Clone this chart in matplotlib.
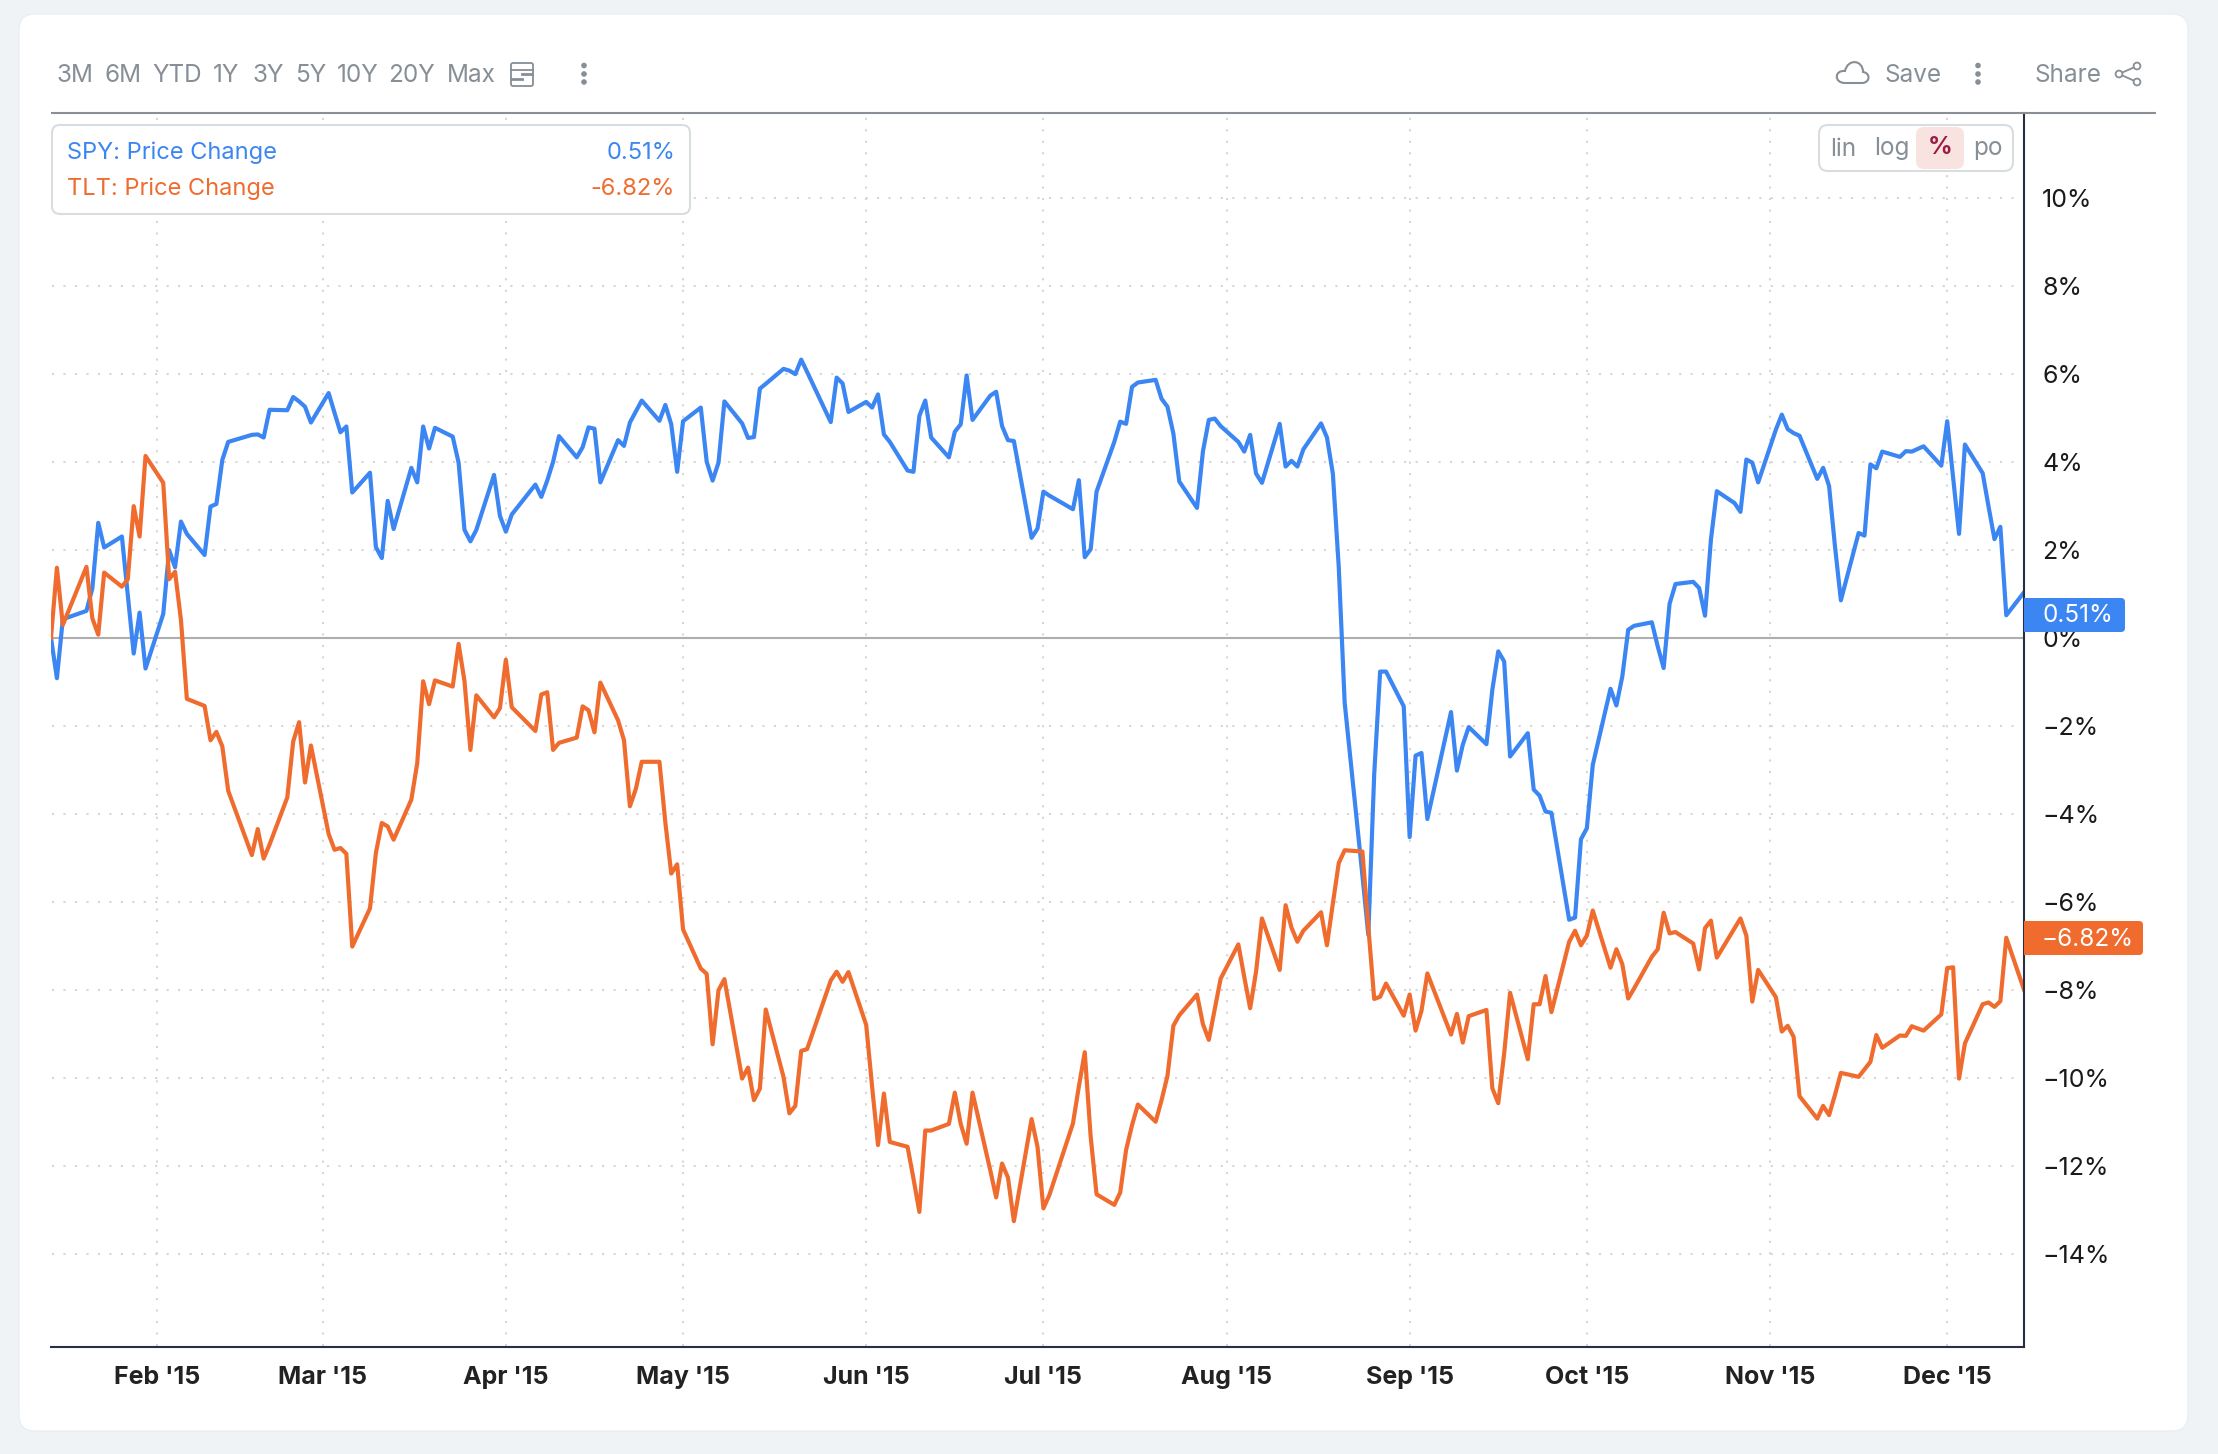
#!/usr/bin/env python3
"""SPY vs TLT price change chart, 2015."""

import matplotlib
matplotlib.use("Agg")
import matplotlib.pyplot as plt
import pandas as pd
from matplotlib.patches import Circle, FancyBboxPatch, PathPatch, Rectangle
from matplotlib.path import Path

# Trading days per month
days_jan = [14, 15, 16, 20, 21, 22, 23, 26, 27, 28, 29, 30]
days_feb = [2, 3, 4, 5, 6, 9, 10, 11, 12, 13, 17, 18, 19, 20, 23, 24, 25, 26, 27]
days_mar = [2, 3, 4, 5, 6, 9, 10, 11, 12, 13, 16, 17, 18, 19, 20, 23, 24, 25, 26, 27, 30, 31]
days_apr = [1, 2, 6, 7, 8, 9, 10, 13, 14, 15, 16, 17, 20, 21, 22, 23, 24, 27, 28, 29, 30]
days_may = [1, 4, 5, 6, 7, 8, 11, 12, 13, 14, 15, 18, 19, 20, 21, 22, 26, 27, 28, 29]
days_jun = [1, 2, 3, 4, 5, 8, 9, 10, 11, 12, 15, 16, 17, 18, 19, 22, 23, 24, 25, 26, 29, 30]
days_jul = [1, 2, 6, 7, 8, 9, 10, 13, 14, 15, 16, 17, 20, 21, 22, 23, 24, 27, 28, 29, 30, 31]
days_aug = [3, 4, 5, 6, 7, 10, 11, 12, 13, 14, 17, 18, 19, 20, 21, 24, 25, 26, 27, 28, 31]
days_sep = [1, 2, 3, 4, 8, 9, 10, 11, 14, 15, 16, 17, 18, 21, 22, 23, 24, 25, 28, 29, 30]
days_oct = [1, 2, 5, 6, 7, 8, 9, 12, 13, 14, 15, 16, 19, 20, 21, 22, 23, 26, 27, 28, 29, 30]
days_nov = [2, 3, 4, 5, 6, 9, 10, 11, 12, 13, 16, 17, 18, 19, 20, 23, 24, 25, 27, 30]
days_dec = [1, 2, 3, 4, 7, 8, 9, 10, 11, 14]

spy_jan = [0.0, -0.92, 0.42, 0.61, 1.12, 2.61, 2.05, 2.30, 0.97, -0.36, 0.57, -0.70]
spy_feb = [0.54, 1.99, 1.60, 2.64, 2.36, 1.88, 2.98, 3.04, 4.04, 4.45, 4.61, 4.62, 4.55, 5.18, 5.17, 5.47, 5.37, 5.25, 4.89]
spy_mar = [5.56, 5.11, 4.67, 4.80, 3.30, 3.75, 2.06, 1.81, 3.11, 2.47, 3.86, 3.53, 4.80, 4.30, 4.77, 4.57, 3.98, 2.45, 2.19, 2.45, 3.70, 2.77]
spy_apr = [2.41, 2.80, 3.48, 3.20, 3.57, 4.00, 4.58, 4.10, 4.33, 4.78, 4.75, 3.53, 4.49, 4.36, 4.89, 5.14, 5.39, 4.93, 5.29, 4.85, 3.77]
spy_may = [4.92, 5.23, 4.00, 3.57, 3.98, 5.37, 4.87, 4.54, 4.56, 5.66, 5.77, 6.11, 6.07, 5.99, 6.32, 6.04, 4.90, 5.91, 5.78, 5.13]
spy_jun = [5.36, 5.23, 5.53, 4.62, 4.45, 3.80, 3.77, 5.04, 5.39, 4.55, 4.10, 4.68, 4.85, 5.96, 4.95, 5.50, 5.59, 4.81, 4.49, 4.47, 2.27, 2.48]
spy_jul = [3.32, 3.23, 2.92, 3.58, 1.83, 2.01, 3.32, 4.45, 4.91, 4.86, 5.70, 5.80, 5.86, 5.43, 5.25, 4.64, 3.55, 2.95, 4.23, 4.95, 4.98, 4.81]
spy_aug = [4.45, 4.23, 4.61, 3.73, 3.52, 4.86, 3.89, 4.02, 3.89, 4.28, 4.87, 4.55, 3.73, 1.60, -1.48, -5.40, -6.75, -3.10, -0.77, -0.77, -1.56]
spy_sep = [-4.53, -2.68, -2.62, -4.12, -1.69, -3.02, -2.43, -2.03, -2.42, -1.18, -0.31, -0.54, -2.70, -2.17, -3.45, -3.59, -3.95, -3.98, -6.41, -6.36, -4.58]
spy_oct = [-4.33, -2.89, -1.16, -1.54, -0.88, 0.18, 0.27, 0.35, -0.20, -0.69, 0.77, 1.22, 1.27, 1.13, 0.50, 2.23, 3.33, 3.06, 2.86, 4.05, 3.98, 3.53]
spy_nov = [4.73, 5.07, 4.74, 4.65, 4.59, 3.61, 3.86, 3.45, 2.08, 0.85, 2.38, 2.32, 3.94, 3.85, 4.23, 4.11, 4.24, 4.23, 4.35, 3.91]
spy_dec = [4.92, 3.63, 2.36, 4.39, 3.74, 2.98, 2.24, 2.52, 0.51, 1.03]

tlt_jan = [0.0, 1.59, 0.29, 1.61, 0.44, 0.07, 1.48, 1.16, 1.33, 2.99, 2.30, 4.13]
tlt_feb = [3.52, 1.33, 1.50, 0.40, -1.39, -1.55, -2.33, -2.14, -2.47, -3.48, -4.94, -4.35, -5.02, -4.70, -3.63, -2.36, -1.92, -3.29, -2.45]
tlt_mar = [-4.46, -4.82, -4.78, -4.91, -7.02, -6.15, -4.89, -4.21, -4.29, -4.59, -3.68, -2.85, -0.99, -1.51, -0.97, -1.11, -0.14, -0.99, -2.55, -1.31, -1.81, -1.60]
tlt_apr = [-0.50, -1.58, -2.12, -1.29, -1.24, -2.55, -2.39, -2.27, -1.56, -1.65, -2.15, -1.02, -1.88, -2.33, -3.83, -3.44, -2.82, -2.82, -4.20, -5.36, -5.15]
tlt_may = [-6.63, -7.52, -7.64, -9.24, -8.01, -7.76, -10.02, -9.77, -10.51, -10.25, -8.45, -9.98, -10.81, -10.64, -9.39, -9.35, -7.79, -7.59, -7.82, -7.60]
tlt_jun = [-8.80, -10.20, -11.53, -10.36, -11.46, -11.57, -12.29, -13.05, -11.20, -11.20, -11.05, -10.34, -11.05, -11.50, -10.34, -12.10, -12.72, -11.95, -12.27, -13.26, -10.94, -11.57]
tlt_jul = [-12.97, -12.67, -11.04, -10.20, -9.42, -11.34, -12.65, -12.89, -12.61, -11.64, -11.08, -10.61, -11.00, -10.51, -9.96, -8.82, -8.58, -8.11, -8.78, -9.14, -8.45, -7.75]
tlt_aug = [-6.97, -7.71, -8.42, -7.59, -6.38, -7.55, -6.08, -6.59, -6.91, -6.66, -6.24, -6.99, -6.04, -5.12, -4.83, -4.86, -6.57, -8.21, -8.16, -7.86, -8.59]
tlt_sep = [-8.11, -8.93, -8.48, -7.63, -9.02, -8.55, -9.20, -8.60, -8.46, -10.24, -10.58, -9.45, -8.07, -9.58, -8.33, -8.33, -7.69, -8.51, -6.91, -6.66, -6.99]
tlt_oct = [-6.77, -6.20, -7.50, -7.08, -7.42, -8.20, -7.97, -7.25, -7.08, -6.25, -6.72, -6.69, -6.95, -7.54, -6.60, -6.43, -7.27, -6.60, -6.38, -6.77, -8.27, -7.55]
tlt_nov = [-8.17, -8.95, -8.82, -9.07, -10.42, -10.93, -10.64, -10.85, -10.39, -9.89, -9.98, -9.81, -9.64, -9.03, -9.32, -9.04, -9.05, -8.83, -8.93, -8.56]
tlt_dec = [-7.51, -7.49, -10.02, -9.22, -8.33, -8.29, -8.39, -8.26, -6.82, -8.00]

month_ticks = ["2015-02-01", "2015-03-01", "2015-04-01", "2015-05-01", "2015-06-01", "2015-07-01",
               "2015-08-01", "2015-09-01", "2015-10-01", "2015-11-01", "2015-12-01"]
month_labels = ["Feb '15", "Mar '15", "Apr '15", "May '15", "Jun '15", "Jul '15",
                "Aug '15", "Sep '15", "Oct '15", "Nov '15", "Dec '15"]
y_ticks = [10, 8, 6, 4, 2, 0, -2, -4, -6, -8, -10, -12, -14]
y_labels = ["10%", "8%", "6%", "4%", "2%", "0%", "\u22122%", "\u22124%", "\u22126%", "\u22128%", "\u221210%", "\u221212%", "\u221214%"]
ranges = ["3M", "6M", "YTD", "1Y", "3Y", "5Y", "10Y", "20Y", "Max"]
range_x = [56, 104, 152, 213, 253, 295, 337, 388, 447]

BLUE = "#3B86F2"
ORANGE = "#EF6C2E"
GREY = "#868E96"
W, H = 2218, 1454

plt.rcParams["font.family"] = ["Inter", "DejaVu Sans"]


def round_box(ov, x0, y0, x1, y1, r, **kw):
    ov.add_patch(FancyBboxPatch((x0 + r, y0 + r), x1 - x0 - 2 * r, y1 - y0 - 2 * r,
                                boxstyle=f"round,pad={r},rounding_size={r}", **kw))


def dots(ov, x, ys):
    for y in ys:
        ov.add_patch(Circle((x, y), 2.8, color=GREY, lw=0, zorder=5))


def draw_icons(ov):
    # calendar
    round_box(ov, 511, 63, 533, 86, 2, fc="none", ec=GREY, lw=1.3)
    ov.plot([511, 533], [70, 70], color=GREY, lw=1.3)
    ov.plot([522, 532], [74, 74], color=GREY, lw=2)
    ov.plot([512, 522], [79, 79], color=GREY, lw=2)
    dots(ov, 584, [65.5, 74, 82])
    dots(ov, 1978, [65.5, 74, 82])
    # cloud
    verts = [(1845, 83), (1834, 83), (1834, 70), (1845, 71),
             (1848, 58), (1863, 60), (1863, 72),
             (1871, 73), (1870, 83), (1862, 83), (1845, 83)]
    codes = [Path.MOVETO, Path.CURVE4, Path.CURVE4, Path.CURVE4,
             Path.CURVE4, Path.CURVE4, Path.CURVE4,
             Path.CURVE4, Path.CURVE4, Path.CURVE4, Path.LINETO]
    ov.add_patch(PathPatch(Path(verts, codes), fc="none", ec=GREY, lw=1.5))
    # share
    ov.plot([2137, 2119, 2137], [66, 74, 82], color=GREY, lw=1.3)
    for x, y in [(2137, 66), (2119, 74), (2137, 82)]:
        ov.add_patch(Circle((x, y), 3.4, fc="white", ec=GREY, lw=1.3, zorder=5))


def draw_overlay(fig):
    ov = fig.add_axes([0, 0, 1, 1], zorder=5)
    ov.set_xlim(0, W)
    ov.set_ylim(H, 0)
    ov.axis("off")
    ov.patch.set_alpha(0)

    # toolbar
    for label, x in zip(ranges, range_x):
        ov.text(x, 75, label, color=GREY, fontsize=17.5, ha="left", va="center")
    ov.text(1884, 75, "Save", color=GREY, fontsize=17.5, ha="left", va="center")
    ov.text(2034, 75, "Share", color=GREY, fontsize=17.5, ha="left", va="center")
    draw_icons(ov)
    ov.plot([51, 2156], [113, 113], color="#8A8F95", lw=1.5, solid_capstyle="butt")

    # legend box
    round_box(ov, 52, 125, 690, 214, 8, fc="white", ec="#D8DDE0", lw=1.5, zorder=3)
    ov.text(67, 153, "SPY: Price Change", color=BLUE, fontsize=17, va="center", zorder=4)
    ov.text(675, 153, "0.51%", color=BLUE, fontsize=17, ha="right", va="center", zorder=4)
    ov.text(67, 189, "TLT: Price Change", color=ORANGE, fontsize=17, va="center", zorder=4)
    ov.text(675, 189, "-6.82%", color=ORANGE, fontsize=17, ha="right", va="center", zorder=4)

    # scale buttons
    round_box(ov, 1819, 125, 2013, 171, 9, fc="white", ec="#D8DDE0", lw=1.5, zorder=3)
    round_box(ov, 1916, 127, 1964, 169, 8, fc="#F8E3E0", ec="none", zorder=3)
    ov.text(1843, 149, "lin", color=GREY, fontsize=17.5, ha="center", va="center", zorder=4)
    ov.text(1892, 149, "log", color=GREY, fontsize=17.5, ha="center", va="center", zorder=4)
    ov.text(1940, 148, "%", color="#9B1C45", fontsize=17.5, fontweight="bold", ha="center", va="center", zorder=4)
    ov.text(1988, 149, "po", color=GREY, fontsize=17.5, ha="center", va="center", zorder=4)

    # last value tags on the price axis
    for y0, y1, x1, color, label in [(598, 632, 2125, BLUE, "0.51%"), (921, 955, 2143, ORANGE, "\u22126.82%")]:
        round_box(ov, 2024, y0, x1, y1, 4, fc=color, ec="none", zorder=3)
        ov.add_patch(Rectangle((2024, y0), 10, y1 - y0, fc=color, ec="none", zorder=3))
        ov.text(2042, (y0 + y1) / 2 + 1, label, color="white", fontsize=17.5, ha="left", va="center", zorder=4)


def main():
    months = [(1, days_jan), (2, days_feb), (3, days_mar), (4, days_apr), (5, days_may), (6, days_jun),
              (7, days_jul), (8, days_aug), (9, days_sep), (10, days_oct), (11, days_nov), (12, days_dec)]
    dates = pd.to_datetime([f"2015-{m:02d}-{d:02d}" for m, days in months for d in days])
    spy = spy_jan + spy_feb + spy_mar + spy_apr + spy_may + spy_jun + spy_jul + spy_aug + spy_sep + spy_oct + spy_nov + spy_dec
    tlt = tlt_jan + tlt_feb + tlt_mar + tlt_apr + tlt_may + tlt_jun + tlt_jul + tlt_aug + tlt_sep + tlt_oct + tlt_nov + tlt_dec

    fig = plt.figure(figsize=(W / 100, H / 100), dpi=100, facecolor="#F0F3F6")

    # white card behind everything
    bg = fig.add_axes([0, 0, 1, 1], zorder=0)
    bg.set_xlim(0, W)
    bg.set_ylim(H, 0)
    bg.axis("off")
    round_box(bg, 19, 14, 2188, 1431, 16, fc="white", ec="#EBEEF0", lw=1)

    ax = fig.add_axes([51 / W, 1 - 1347 / H, 1973 / W, 1234 / H], zorder=1)
    ax.patch.set_alpha(0)
    ax.set_xlim(pd.Timestamp("2015-01-14"), pd.Timestamp("2015-12-14"))
    ax.set_ylim(-16.12, 11.925)

    ax.grid(True, color="#D6D6D6", lw=1.5, linestyle=(5, (1, 4.5)))
    ax.set_axisbelow(True)
    ax.axhline(0, color="#AEAEAE", lw=1.5, zorder=1.5)
    ax.plot(dates, spy, color=BLUE, lw=3, solid_joinstyle="round", zorder=2)
    ax.plot(dates, tlt, color=ORANGE, lw=3, solid_joinstyle="round", zorder=2.1)

    ax.set_xticks(pd.to_datetime(month_ticks))
    ax.set_xticklabels(month_labels, fontsize=18, fontweight="bold", color="#222222")
    ax.set_yticks(y_ticks)
    ax.set_yticklabels(y_labels, fontsize=18, color="#1A1A1A")
    ax.yaxis.tick_right()
    ax.tick_params(axis="x", length=0, pad=14)
    ax.tick_params(axis="y", length=0, pad=13)

    for side in ["top", "left"]:
        ax.spines[side].set_visible(False)
    for side in ["right", "bottom"]:
        ax.spines[side].set_color("#2A2E45")
        ax.spines[side].set_linewidth(1.5)

    draw_overlay(fig)

    fig.savefig("out.png", dpi=100, facecolor=fig.get_facecolor())
    plt.close(fig)


if __name__ == "__main__":
    main()
